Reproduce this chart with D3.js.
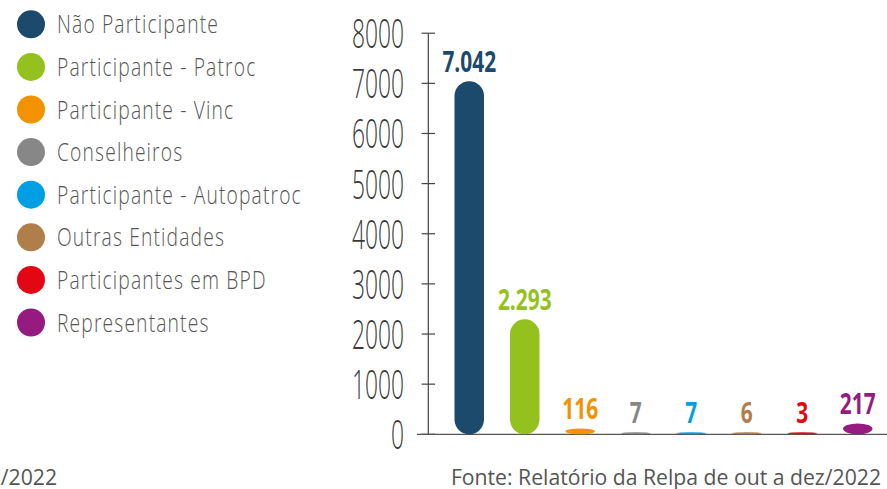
<!DOCTYPE html>
<html>
<head>
<meta charset="utf-8">
<script src="https://cdn.jsdelivr.net/npm/d3@7"></script>
<style>
  body { margin: 0; background: #fff; }
  text { font-family: "Open Sans", sans-serif; }
</style>
</head>
<body>
<svg id="chart"></svg>
<script>
// Chart data
const categories = ["Não Participante", "Participante - Patroc", "Participante - Vinc", "Conselheiros",
  "Participante - Autopatroc", "Outras Entidades", "Participantes em BPD", "Representantes"];
const values = [7042, 2293, 116, 7, 7, 6, 3, 217];
const colors = ["#1b4a6d", "#95c11f", "#f39200", "#878787", "#009fe3", "#b07e4b", "#e30613", "#951b81"];
const yTicks = [0, 1000, 2000, 3000, 4000, 5000, 6000, 7000, 8000];
const source = "Fonte: Relatório da Relpa de out a dez/2022";

const width = 887, height = 489;
const svg = d3.select("#chart").attr("width", width).attr("height", height);

// Brazilian number format (7.042)
const br = d3.formatLocale({decimal: ",", thousands: ".", grouping: [3], currency: ["R$", ""]});
const fmt = br.format(",");

// Scales
const x = d3.scaleBand().domain(categories).range([441.5, 885.5]);
const y = d3.scaleLinear().domain([0, 8000]).range([434.3, 33.2]);
const barW = 29.5;
const axisX = 428.3;

// Legend
const legend = svg.append("g");
const item = legend.selectAll("g").data(categories).enter().append("g")
  .attr("transform", (d, i) => `translate(0,${24.3 + i * 42.6})`);
item.append("circle").attr("cx", 31).attr("cy", 0).attr("r", 14)
  .attr("fill", (d, i) => colors[i]);
item.append("text")
  .attr("transform", "translate(57,9) scale(0.77,1)")
  .attr("font-size", 25).attr("font-weight", 300)
  .attr("letter-spacing", 1.5)
  .attr("fill", "#555")
  .text(d => d);

// Y axis line and ticks
svg.append("line")
  .attr("x1", axisX).attr("x2", axisX)
  .attr("y1", y(8000)).attr("y2", y(0))
  .attr("stroke", "#444").attr("stroke-width", 1.2);
svg.selectAll(".tick").data(yTicks).enter().append("line")
  .attr("class", "tick")
  .attr("x1", axisX - 6.7).attr("x2", axisX + 6.7)
  .attr("y1", d => y(d)).attr("y2", d => y(d))
  .attr("stroke", "#444").attr("stroke-width", 1.2);
svg.selectAll(".ylabel").data(yTicks).enter().append("text")
  .attr("class", "ylabel")
  .attr("transform", d => `translate(404,${y(d) + 15}) scale(0.57,1)`)
  .attr("text-anchor", "end")
  .attr("font-size", 40).attr("font-weight", 300)
  .attr("fill", "#3a3a3a")
  .text(d => d);

// Baseline
svg.append("line")
  .attr("x1", 417).attr("x2", width)
  .attr("y1", y(0)).attr("y2", y(0))
  .attr("stroke", "#555").attr("stroke-width", 1.2);

// Pill shaped bars
svg.selectAll(".bar").data(values).enter().append("rect")
  .attr("class", "bar")
  .attr("x", (d, i) => x(categories[i]) + x.bandwidth() / 2 - barW / 2)
  .attr("width", barW)
  .attr("y", d => Math.min(y(d), y(0) - 2))
  .attr("height", d => Math.max(y(0) - y(d), 2))
  .attr("rx", barW / 2).attr("ry", barW / 2)
  .attr("fill", (d, i) => colors[i]);

// Value labels
svg.selectAll(".vlabel").data(values).enter().append("text")
  .attr("class", "vlabel")
  .attr("transform", (d, i) =>
    `translate(${x(categories[i]) + x.bandwidth() / 2},${Math.min(y(d), y(0) - 2) - 9}) scale(0.72,1)`)
  .attr("text-anchor", "middle")
  .attr("font-size", 29).attr("font-weight", 700)
  .attr("fill", (d, i) => colors[i])
  .text(d => fmt(d));

// Source notes
svg.append("text")
  .attr("x", 881).attr("y", 485)
  .attr("text-anchor", "end")
  .attr("font-size", 21.2).attr("fill", "#555")
  .text(source);
svg.append("text")
  .attr("x", 57).attr("y", 485)
  .attr("text-anchor", "end")
  .attr("font-size", 21.2).attr("fill", "#555")
  .text(source);
</script>
</body>
</html>
